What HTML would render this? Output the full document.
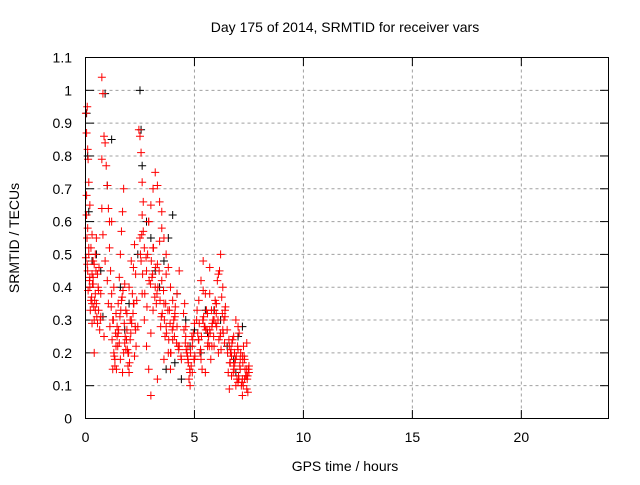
<!DOCTYPE html>
<html><head><meta charset="utf-8"><style>
body{margin:0;background:#fff;font-family:"Liberation Sans",sans-serif}
svg text{font-family:"Liberation Sans",sans-serif;font-size:14px;fill:#000}
</style></head><body>
<svg id="c" width="640" height="480">
<text x="345" y="32" text-anchor="middle">Day 175 of 2014, SRMTID for receiver vars</text>
<text x="345" y="471" text-anchor="middle">GPS time / hours</text>
<text transform="translate(19,238) rotate(-90)" text-anchor="middle">SRMTID / TECUs</text>
<g id="grid"></g><g id="ticks"></g><g id="pts"></g>
<rect x="85.5" y="57.5" width="523" height="361" fill="none" stroke="#000"/>
</svg>
<script>
const xTicks=[0,5,10,15,20];
const yTicks=[0,0.1,0.2,0.3,0.4,0.5,0.6,0.7,0.8,0.9,1,1.1];
const yTickLabels=["0","0.1","0.2","0.3","0.4","0.5","0.6","0.7","0.8","0.9","1","1.1"];
const blackX=[0.05,0.1,0.15,0.3,0.5,0.7,0.9,1.0,1.2,1.6,2.0,2.4,2.5,2.55,2.6,2.8,3.0,3.2,3.4,3.6,3.8,4.0,4.2,4.4,4.6,4.8,5.0,5.3,5.6,5.9,6.2,6.5,6.8,7.0,7.2,0.8,1.8,3.7,4.1,5.5,6.9];
const blackY=[0.93,0.8,0.63,0.48,0.5,0.45,0.99,0.71,0.85,0.4,0.35,0.5,1.0,0.88,0.77,0.6,0.55,0.45,0.4,0.48,0.55,0.62,0.38,0.12,0.3,0.22,0.27,0.2,0.26,0.33,0.3,0.22,0.18,0.25,0.28,0.31,0.27,0.15,0.17,0.33,0.14];
const redX=[0.02,0.05,0.08,0.1,0.12,0.15,0.05,0.07,0.1,0.2,0.25,0.3,0.35,0.4,0.45,0.05,0.1,0.15,0.2,0.25,0.3,0.35,0.4,0.45,0.5,0.55,0.6,0.65,0.7,0.75,0.8,0.85,0.9,0.95,1.0,1.05,1.1,0.75,0.75,0.8,0.9,1.0,1.05,0.2,0.3,0.4,0.6,0.7,0.85,
1.1,1.15,1.2,1.25,1.3,1.35,1.4,1.45,1.5,1.55,1.6,1.65,1.7,1.75,1.8,1.85,1.9,1.95,2.0,2.05,2.1,2.15,2.2,2.25,2.3,2.35,2.4,1.2,1.3,1.4,1.5,1.6,1.7,1.8,1.9,2.0,2.1,2.2,2.3,1.25,1.45,1.65,1.85,2.05,2.25,
2.45,2.5,2.55,2.6,2.65,2.5,2.55,2.6,2.7,2.8,2.9,3.0,3.1,3.2,3.3,3.4,3.5,3.6,3.7,3.8,3.9,4.0,4.1,4.2,4.3,4.4,2.6,2.7,2.8,2.9,3.0,3.1,3.2,3.3,3.4,3.5,3.6,3.7,3.8,3.9,4.0,4.1,4.2,4.3,2.65,2.85,3.05,3.25,3.45,3.65,3.85,4.05,4.25,3.0,3.3,3.6,3.9,2.9,3.1,3.5,3.7,
4.5,4.6,4.7,4.8,4.9,5.0,4.55,4.65,4.75,4.85,4.95,4.6,4.8,5.0,4.7,4.9,
5.1,5.2,5.3,5.4,5.5,5.6,5.7,5.8,5.9,6.0,6.1,6.2,6.3,6.4,5.15,5.25,5.35,5.45,5.55,5.65,5.75,5.85,5.95,6.05,6.15,6.25,6.35,5.2,5.4,5.6,5.8,6.0,6.2,6.4,5.3,5.5,5.7,5.9,6.1,6.3,5.4,5.7,6.0,
6.5,6.6,6.7,6.8,6.9,7.0,7.1,7.2,7.3,7.4,7.5,6.55,6.65,6.75,6.85,6.95,7.05,7.15,7.25,7.35,7.45,6.6,6.8,7.0,7.2,7.4,6.7,6.9,7.1,7.3,7.5,7.0,7.2,7.4,
0.08,0.18,0.28,0.38,0.48,0.12,0.22,0.32,0.42,0.52,0.62,0.15,0.35,0.55,0.02,0.3,0.5,0.68,0.58,0.45,
1.12,1.22,1.32,1.42,1.52,1.62,1.72,1.82,1.92,2.02,2.12,2.22,2.32,1.18,1.28,1.38,1.48,1.58,1.68,1.78,1.88,1.98,2.08,2.18,2.28,1.35,1.55,1.75,1.95,
2.52,2.62,2.72,2.82,2.92,3.02,3.12,3.22,3.32,3.42,3.52,3.62,3.72,3.82,3.92,4.02,4.12,2.58,2.78,2.98,3.18,3.38,3.58,3.78,3.98,4.18,4.38,3.08,3.28,3.48,3.68,3.88,4.08,4.28,
4.52,4.62,4.72,4.82,4.92,5.02,4.58,4.68,4.78,4.88,4.98,
5.12,5.22,5.32,5.42,5.52,5.62,5.72,5.82,5.92,6.02,6.12,6.22,6.32,6.42,5.18,5.38,5.58,5.78,5.98,6.18,6.38,5.28,5.48,5.68,5.88,6.08,6.28,
6.52,6.62,6.72,6.82,6.92,7.02,7.12,7.22,7.32,7.42,6.58,6.68,6.78,6.88,6.98,7.08,7.18,7.28,7.38,7.48,6.64,6.84,7.04,7.24,7.44];
const redY=[0.93,0.87,0.95,0.82,0.79,0.72,0.62,0.55,0.45,0.4,0.52,0.35,0.48,0.3,0.38,0.68,0.58,0.5,0.43,0.36,0.29,0.41,0.2,0.5,0.55,0.44,0.33,0.27,0.38,1.04,0.99,0.86,0.84,0.77,0.71,0.64,0.6,0.79,0.64,0.56,0.48,0.42,0.35,0.65,0.56,0.47,0.39,0.31,0.25,
0.52,0.45,0.38,0.3,0.2,0.16,0.22,0.28,0.35,0.43,0.5,0.57,0.63,0.7,0.41,0.33,0.27,0.2,0.14,0.24,0.3,0.38,0.46,0.53,0.44,0.36,0.28,0.6,0.4,0.32,0.26,0.18,0.14,0.23,0.32,0.4,0.48,0.35,0.27,0.15,0.25,0.36,0.21,0.3,0.19,
0.88,0.86,0.81,0.72,0.66,0.55,0.48,0.62,0.52,0.45,0.6,0.65,0.7,0.75,0.71,0.66,0.58,0.55,0.5,0.46,0.4,0.36,0.32,0.28,0.22,0.18,0.38,0.3,0.22,0.15,0.26,0.33,0.4,0.47,0.54,0.42,0.35,0.28,0.2,0.15,0.24,0.31,0.38,0.45,0.57,0.5,0.43,0.35,0.28,0.25,0.33,0.3,0.22,0.07,0.12,0.18,0.2,0.6,0.52,0.63,0.44,
0.32,0.25,0.18,0.14,0.22,0.29,0.35,0.2,0.12,0.16,0.26,0.28,0.1,0.18,0.22,0.14,
0.3,0.36,0.42,0.48,0.38,0.32,0.27,0.22,0.3,0.35,0.44,0.5,0.4,0.33,0.26,0.2,0.15,0.28,0.33,0.25,0.18,0.3,0.36,0.42,0.45,0.37,0.3,0.24,0.3,0.22,0.28,0.35,0.26,0.31,0.18,0.14,0.38,0.22,0.2,0.27,0.39,0.46,0.32,
0.27,0.22,0.19,0.25,0.3,0.21,0.15,0.12,0.18,0.23,0.16,0.14,0.2,0.24,0.17,0.12,0.26,0.1,0.22,0.13,0.08,0.09,0.16,0.28,0.19,0.15,0.13,0.1,0.18,0.12,0.14,0.11,0.07,0.09,
0.47,0.42,0.37,0.34,0.45,0.39,0.33,0.41,0.36,0.31,0.46,0.52,0.43,0.29,0.49,0.44,0.35,0.3,0.4,0.33,
0.28,0.24,0.19,0.15,0.27,0.33,0.39,0.25,0.21,0.17,0.29,0.35,0.22,0.34,0.3,0.26,0.22,0.31,0.37,0.29,0.24,0.2,0.26,0.32,0.28,0.18,0.23,0.2,0.16,
0.5,0.44,0.38,0.34,0.42,0.48,0.52,0.46,0.4,0.36,0.32,0.3,0.26,0.24,0.2,0.28,0.34,0.56,0.49,0.41,0.37,0.45,0.39,0.33,0.27,0.23,0.19,0.44,0.38,0.31,0.35,0.29,0.25,0.21,
0.27,0.21,0.17,0.2,0.24,0.19,0.23,0.19,0.15,0.25,0.18,
0.33,0.29,0.25,0.31,0.27,0.23,0.26,0.29,0.33,0.28,0.24,0.21,0.26,0.34,0.24,0.3,0.27,0.33,0.29,0.25,0.23,0.21,0.28,0.22,0.25,0.3,0.32,
0.2,0.17,0.23,0.15,0.19,0.13,0.2,0.17,0.15,0.12,0.24,0.21,0.14,0.18,0.22,0.16,0.11,0.19,0.13,0.15,0.17,0.2,0.12,0.1,0.13];
const NS='http://www.w3.org/2000/svg';
const xs=v=>85.5+v*523/24, ys=v=>418.5-v*361/1.1;
function mk(t,a,p){const e=document.createElementNS(NS,t);for(const k in a)e.setAttribute(k,a[k]);p.appendChild(e);return e;}
const grid=document.getElementById('grid'),tk=document.getElementById('ticks'),pts=document.getElementById('pts');
xTicks.forEach(v=>{const x=xs(v);
 if(v>0){const g=mk('line',{x1:x,x2:x,y1:57.5,y2:418.5,stroke:'#a0a0a0','stroke-dasharray':'3,3'},grid);
 
 }
 mk('line',{x1:x,x2:x,y1:418.5,y2:410,stroke:'#000'},tk);mk('line',{x1:x,x2:x,y1:57.5,y2:66,stroke:'#000'},tk);
 const t=mk('text',{x:x,y:442,'text-anchor':'middle'},tk);t.textContent=v;
 
 });
yTicks.forEach((v,i)=>{const y=ys(v);
 if(i>0&&i<yTicks.length-1){const g=mk('line',{x1:85.5,x2:608.5,y1:y,y2:y,stroke:'#a0a0a0','stroke-dasharray':'3,3'},grid);
 
 }
 mk('line',{x1:85.5,x2:94,y1:y,y2:y,stroke:'#000'},tk);mk('line',{x1:600,x2:608.5,y1:y,y2:y,stroke:'#000'},tk);
 const t=mk('text',{x:72,y:y+5,'text-anchor':'end'},tk);t.textContent=yTickLabels[i];
 
 });
function plus(X,Y,col,name){X.forEach((v,i)=>{const x=xs(v),y=ys(Y[i]);
 const p=mk('path',{d:`M${x-4} ${y}H${x+4}M${x} ${y-4}V${y+4}`,stroke:col,'stroke-width':1},pts);
 
 });}
plus(blackX,blackY,'#000','point-black');
plus(redX,redY,'#ff0000','point-red');
</script>
</body></html>
